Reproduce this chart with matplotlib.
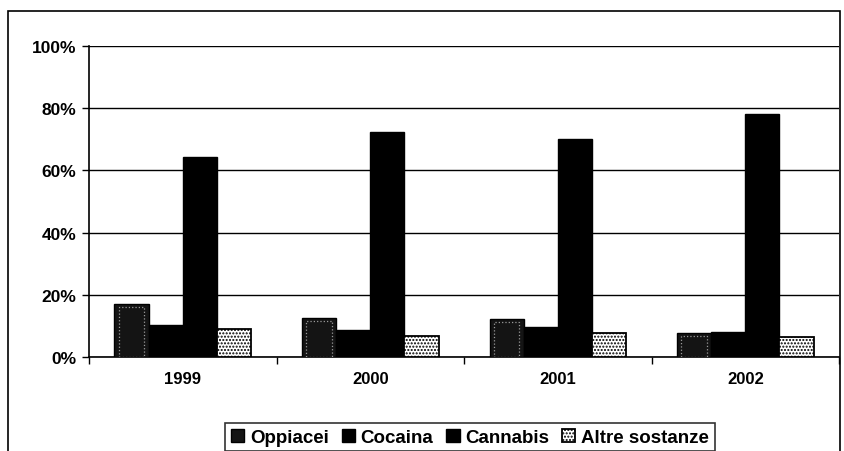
import numpy as np
import matplotlib.pyplot as plt
from matplotlib.patches import Rectangle

plt.rcParams['font.family'] = ['Liberation Sans', 'DejaVu Sans']
plt.rcParams['font.weight'] = 'bold'

# Data (percent)
anni = ['1999', '2000', '2001', '2002']
oppiacei = [17.0, 12.5, 12.2, 7.7]
cocaina = [10.3, 8.7, 9.6, 8.0]
cannabis = [64.3, 72.3, 70.0, 78.0]
altre = [9.0, 6.8, 7.7, 6.4]

fig = plt.figure(figsize=(8.45, 4.52), dpi=100)
ax = fig.add_axes([0.1053, 0.208, 0.8877, 0.688])

# Outer chart border
fig.patches.append(Rectangle((0.0095, -0.01), 0.985, 0.983, transform=fig.transFigure,
                             fill=False, edgecolor='black', linewidth=1.2))

x = np.arange(len(anni))
w = 0.182
offs = np.array([-1.5, -0.5, 0.5, 1.5]) * w

ax.bar(x + offs[0], oppiacei, w, color='#141414', edgecolor='black', linewidth=1,
       label='Oppiacei', zorder=3)
ax.bar(x + offs[0], [v - 1.0 for v in oppiacei], w * 0.75, color='none', edgecolor='#9a9a9a',
       linewidth=0.9, linestyle=':', zorder=4)
ax.bar(x + offs[1], cocaina, w, color='black', edgecolor='black', linewidth=1,
       label='Cocaina', zorder=3)
ax.bar(x + offs[2], cannabis, w, color='black', edgecolor='black', linewidth=1,
       label='Cannabis', zorder=3)
plt.rcParams['hatch.color'] = '#555555'
ax.bar(x + offs[3], altre, w, color='white', edgecolor='black', linewidth=1.3,
       hatch='.....', label='Altre sostanze', zorder=3)

ax.set_xlim(-0.5, 3.5)
ax.set_ylim(0, 100)
ax.set_yticks(range(0, 101, 20))
ax.set_yticklabels([f'{v}%' for v in range(0, 101, 20)], fontsize=12.5, fontweight='bold')
ax.set_xticks(x)
ax.set_xticklabels(anni, fontsize=12, fontweight='bold')
ax.tick_params(axis='x', which='major', length=0, pad=10)
ax.set_xticks(np.arange(-0.5, 4, 1), minor=True)
ax.tick_params(axis='x', which='minor', length=5, width=1, direction='out')
ax.tick_params(axis='y', length=5, width=1, direction='out', pad=4)

ax.grid(axis='y', color='black', linewidth=1, zorder=0)
ax.set_axisbelow(True)
for s in ['top', 'right']:
    ax.spines[s].set_visible(False)
ax.spines['left'].set_linewidth(1.2)
ax.spines['bottom'].set_linewidth(1.2)

leg = ax.legend(loc='upper center', bbox_to_anchor=(0.508, -0.212), ncol=4,
                frameon=True, fancybox=False, edgecolor='black', handlelength=0.7,
                handleheight=0.7, handletextpad=0.3, columnspacing=0.7,
                borderpad=0.3, borderaxespad=0,
                prop={'weight': 'bold', 'size': 13.5})
leg.get_frame().set_linewidth(1.2)

fig.savefig('out.png', dpi=100)
